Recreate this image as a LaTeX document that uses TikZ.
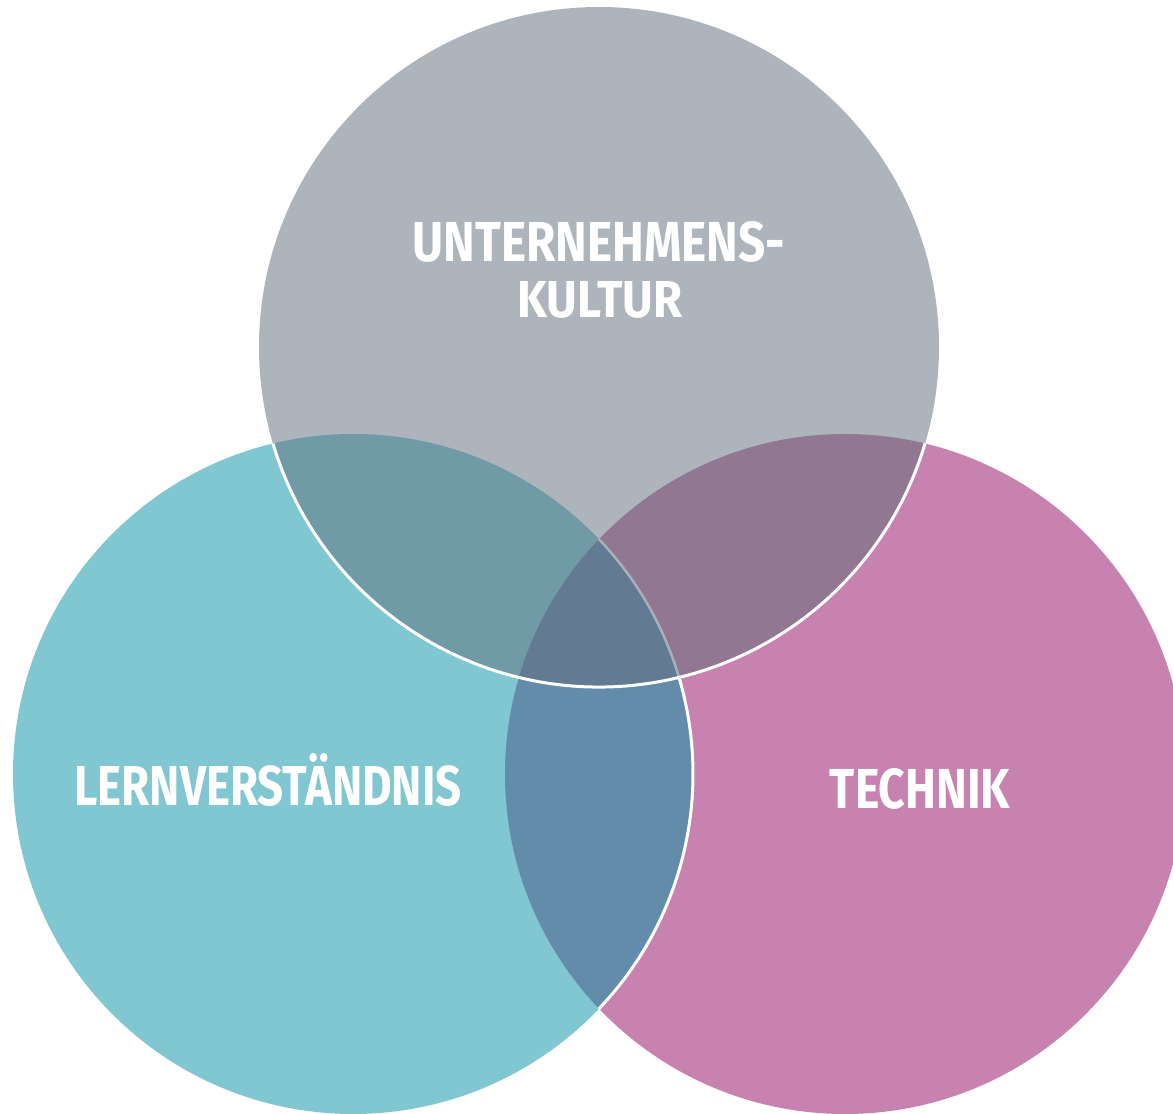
\documentclass[tikz,border=0pt]{standalone}
\usepackage{fontspec}
\setmainfont{Fira Sans}
\usepackage{graphicx}
\definecolor{kulturgray}{HTML}{ADB4BB}
\definecolor{lernteal}{HTML}{80C7D1}
\definecolor{technikpink}{HTML}{C882B0}
\definecolor{kulturlern}{HTML}{6F9AA6}
\definecolor{kulturtechnik}{HTML}{927793}
\definecolor{lerntechnik}{HTML}{638BAA}
\definecolor{allthree}{HTML}{627A92}
\definecolor{seamgray}{HTML}{AAB0BA}
\newcommand{\vennword}[3]{\resizebox{#1pt}{#2pt}{\bfseries #3}}

\begin{document}
\begin{tikzpicture}[x=1pt, y=1pt,
    word/.style={text=white, inner sep=0pt, anchor=center},
    seam/.style={line width=3, draw=white}]
  \useasboundingbox (0,0) rectangle (1173,1114);
  \coordinate (T) at (599,767);
  \coordinate (L) at (353,340);
  \coordinate (R) at (845,340);

  % the three circles
  \fill[technikpink] (R) circle[radius=340];
  \fill[lernteal] (L) circle[radius=340];
  \fill[kulturgray] (T) circle[radius=340];

  % overlaps
  \begin{scope}
    \clip (L) circle[radius=340];
    \fill[lerntechnik] (R) circle[radius=340];
  \end{scope}
  \begin{scope}
    \clip (T) circle[radius=340];
    \fill[kulturlern] (L) circle[radius=340];
    \fill[kulturtechnik] (R) circle[radius=340];
    \clip (L) circle[radius=340];
    \fill[allthree] (R) circle[radius=340];
  \end{scope}

  % white borders
  \draw[seam] ([shift={(16.5:340)}]L) arc[start angle=16.5, end angle=-43.7, radius=340];
  \draw[seamgray, line width=2.5] ([shift={(43.7:340)}]L) arc[start angle=43.7, end angle=16.5, radius=340];
  \draw[seam] ([shift={(196.5:340)}]T) arc[start angle=196.5, end angle=343.5, radius=340];

  % labels
  \node[word] (kultur1) at (599,872) {\vennword{372}{40}{UNTERNEHMENS-}};
  \node[word] (kultur2) at (600,814) {\vennword{165}{36}{KULTUR}};
  \node[word] (lern) at (268,334) {\vennword{387}{52}{LERNVERSTÄNDNIS}};
  \node[word] (technik) at (920,325) {\vennword{180}{40}{TECHNIK}};
\end{tikzpicture}
\end{document}
